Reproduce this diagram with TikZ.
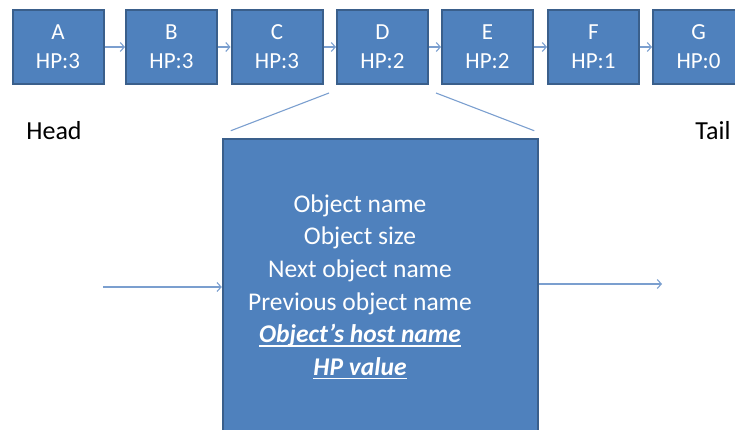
\documentclass[tikz,border=0pt]{standalone}
\usepackage{fontspec}
\setmainfont{Carlito}
\usetikzlibrary{arrows.meta,calc}
\definecolor{boxfill}{HTML}{4F81BD}
\definecolor{boxline}{HTML}{3A5F8B}
\definecolor{linkcol}{HTML}{7B9FCF}
\newcommand\myul[1]{\setbox0\hbox{#1}\rlap{\color{white}\rule[-4pt]{\wd0}{1.3pt}}\box0}
\tikzset{
  x=1pt, y=-1pt,
  objbox/.style={draw=boxline, line width=2pt, fill=boxfill, text=white,
    minimum width=91pt, minimum height=74pt, inner sep=0pt, align=center,
    font=\fontsize{23}{29}\selectfont},
  bigbox/.style={draw=boxline, line width=2.5pt, fill=boxfill,
    minimum width=315pt, minimum height=301pt, inner sep=0pt},
  link/.style={draw=linkcol, line width=1.1pt, -{Straight Barb[length=4pt,width=9pt,line width=1.1pt]}},
  zoomline/.style={draw=linkcol, line width=1.1pt},
  endlabel/.style={font=\fontsize{26}{30}\selectfont, text=black, inner sep=0pt}
}
\begin{document}
\begin{tikzpicture}
\useasboundingbox (0,0) rectangle (735,430);
\clip (0,0) rectangle (735,430);
\node[objbox] (A) at (58,47) {A\\HP:3};
\node[objbox] (B) at (171.5,47) {B\\HP:3};
\node[objbox] (C) at (277,47) {C\\HP:3};
\node[objbox] (D) at (382.5,47) {D\\HP:2};
\node[objbox] (E) at (487.5,47) {E\\HP:2};
\node[objbox] (F) at (593.5,47) {F\\HP:1};
\node[objbox] (G) at (698.5,47) {G\\HP:0};
\draw[link] (A) -- (B);
\draw[link] (B) -- (C);
\draw[link] (C) -- (D);
\draw[link] (D) -- (E);
\draw[link] (E) -- (F);
\draw[link] (F) -- (G);
\node[endlabel] (head) at (54,131) {Head};
\node[endlabel] (tail) at (713,131) {Tail};
\node[bigbox] (obj) at (380.5,289.5) {};
\node[text=white, align=center, font=\fontsize{25.5}{32.6}\selectfont] (fields) at (360,287)
  {Object name\\Object size\\Next object name\\Previous object name\\
   \myul{\textbf{\textit{Object’s host name}}}\\\myul{\textbf{\textit{HP value}}}};
\coordinate (zl1) at ($(D.south west)+(-7,8)$);
\coordinate (zl2) at ($(obj.north west)+(9,-7)$);
\coordinate (zr1) at ($(D.south east)+(7,8)$);
\coordinate (zr2) at ($(obj.north east)+(-5,-7)$);
\draw[zoomline] (zl1) -- (zl2);
\draw[zoomline] (zr1) -- (zr2);
\coordinate (inl) at (103,287);
\coordinate (outr) at (662,284);
\draw[link] (inl) -- (obj.west |- inl);
\draw[link] (obj.east |- outr) -- (outr);
\end{tikzpicture}
\end{document}
